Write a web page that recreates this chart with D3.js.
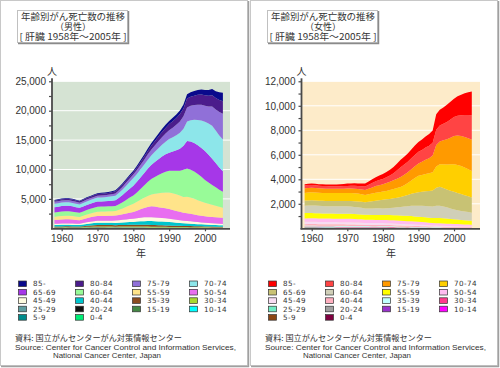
<!DOCTYPE html>
<html><head><meta charset="utf-8">
<script src="https://cdn.jsdelivr.net/npm/d3@7"></script>
<style>body{margin:0;background:#fff}svg{display:block}</style>
</head><body>
<svg id="c" width="500" height="368"></svg>
<script>
// ---------------- DATA ----------------
const years = d3.range(1958, 2006);
const ageGroups = ["85-","80-84","75-79","70-74","65-69","60-64","55-59","50-54","45-49","40-44","35-39","30-34","25-29","20-24","15-19","10-14","5-9","0-4"];
const xTicks = [1960, 1970, 1980, 1990, 2000];
const maleTicks = [5000, 10000, 15000, 20000, 25000];
const maleMinorTicks = [2500, 7500, 12500, 17500, 22500];
const femaleTicks = [2000, 4000, 6000, 8000, 10000, 12000];
const femaleMinorTicks = [1000, 3000, 5000, 7000, 9000, 11000];

// Male (1958..2005)
const male_85 = [120,125,130,130,135,130,125,120,130,135,140,145, 150,155,160,165,170,180,190,205,220,240, 260,290,320,350,400,450,480,500,520,540, 550,570,600,620,650,750,780,800,830,870, 900,950,1050,1150,1300,1450];
const male_80 = [200,205,210,215,220,220,225,230,240,250,260,280, 300,305,310,320,330,350,360,370,380,390, 400,440,480,530,590,650,720,800,880,960, 1050,1110,1180,1260,1350,1500,1550,1600,1680,1740, 1800,1850,1900,1950,2020,2100];
const male_75 = [330,335,340,340,340,335,330,320,320,320,310,305, 300,310,320,340,370,400,440,480,520,560, 600,660,720,800,900,1000,1080,1180,1280,1380, 1500,1620,1760,1920,2100,2400,2450,2500,2580,2650, 2700,2900,3300,3600,4000,4400];
const male_70 = [580,590,600,600,600,590,580,560,580,600,620,650, 680,690,700,720,750,780,850,950,1050,1180, 1300,1350,1400,1450,1520,1600,1720,1850,2000,2150, 2300,2420,2560,2720,2900,3300,3600,3950,4300,4700, 5000,5300,5600,5500,5450,5400];
const male_65 = [900,920,950,950,940,920,880,850,860,870,860,860, 870,870,880,890,920,950,1080,1220,1370,1510, 1650,1800,1950,2100,2250,2400,2540,2690,2840,2970, 3100,3270,3500,3750,4100,4700,4800,4850,4900,4900, 4900,4700,4450,4150,3800,3500];
const male_60 = [700,720,750,760,760,740,720,700,730,760,790,820, 850,850,850,850,850,850,950,1050,1180,1300, 1400,1600,1850,2100,2380,2650,2880,3120,3320,3520, 3700,3850,4000,4200,4600,4800,4750,4650,4450,4200, 3900,3650,3400,3150,2900,2700];
const male_55 = [560,580,600,610,610,590,560,540,580,620,660,700, 740,750,760,770,780,790,880,980,1120,1260, 1400,1500,1620,1740,1870,2000,2170,2360,2550,2700, 2800,2820,2820,2780,2700,2800,2750,2650,2550,2430, 2300,2180,2060,1940,1820,1700];
const male_50 = [650,660,680,690,690,670,640,610,650,700,740,770, 800,800,810,820,830,850,900,960,1030,1090, 1150,1280,1420,1570,1720,1850,1840,1800,1760,1700, 1650,1570,1490,1420,1350,1300,1280,1240,1180,1130, 1100,1080,1070,1060,1050,1050];
const male_45 = [220,225,230,235,235,230,225,220,250,280,300,320, 340,350,360,370,380,400,420,450,480,510, 550,590,630,650,660,650,640,620,600,580, 550,530,500,480,450,450,420,380,350,320, 300,290,280,270,260,250];
const male_40 = [250,255,260,265,265,260,255,250,280,310,340,360, 380,380,380,380,380,380,400,420,440,460, 480,520,570,610,640,650,650,640,630,620, 600,570,530,490,450,420,400,380,360,340, 320,300,280,260,245,230];
const male_35 = [120,125,130,135,135,130,125,120,150,180,210,230, 250,255,255,255,255,250,260,270,280,290, 300,310,310,310,305,300,290,270,260,245, 230,220,210,195,180,180,175,170,165,160, 150,145,140,135,130,130];
const male_30 = [60,62,64,65,65,64,62,60,75,90,105,115, 120,120,120,120,120,120,125,130,135,140, 140,140,140,138,135,130,125,118,110,105, 100,96,92,88,84,80,78,76,74,72, 70,68,66,64,62,60];
const male_25 = [40,40,42,42,42,41,40,40,48,56,62,66, 70,68,66,64,62,60,60,60,60,60, 60,58,56,54,52,50,49,48,47,46, 45,44,43,42,41,40,38,36,34,32, 30,29,28,27,26,25];
const male_20 = [20,20,21,22,22,21,20,20,24,28,32,36, 40,38,36,34,32,30,30,30,30,30, 30,29,28,27,26,25,25,25,25,25, 25,24,23,22,21,20,19,18,17,16, 15,14,14,13,13,12];
const male_15 = [15,15,16,16,16,15,15,15,17,18,19,20, 20,19,18,17,16,15,15,15,15,15, 15,15,15,15,15,15,14,13,13,12, 12,12,11,11,10,10,10,9,9,9, 8,8,8,8,8,8];
const male_10 = [15,15,16,16,16,15,15,15,17,18,19,20, 20,19,18,17,16,15,14,13,13,12, 12,12,11,11,10,10,10,9,9,8, 8,8,8,8,8,8,7,7,7,6, 6,6,6,5,5,5];
const male_5 = [15,16,16,17,16,15,15,15,16,18,19,20, 20,19,18,17,16,15,14,14,13,12, 12,12,11,11,10,10,10,9,9,8, 8,8,8,8,8,8,7,7,6,6, 6,6,5,5,5,5];
const male_0 = [20,20,22,22,22,21,20,20,22,25,28,30, 30,30,30,28,26,25,28,32,36,38, 40,40,40,40,40,40,40,40,40,40, 40,40,40,40,40,40,38,36,34,32, 30,29,28,27,26,25];

// Female (1958..2005)
const female_85 = [110,115,120,120,125,125,130,135,140,150,160,175, 190,195,200,205,215,230,260,300,340,370, 400,430,460,500,550,600,640,680,720,760, 800,850,900,950,1000,1250,1280,1330,1400,1450, 1500,1580,1680,1760,1850,1950];
const female_80 = [220,225,225,220,215,215,210,210,205,205,210,215, 220,225,235,245,265,300,330,360,390,410, 430,470,520,580,680,800,830,860,890,920, 950,970,1000,1020,1050,1250,1300,1350,1420,1490, 1550,1620,1700,1800,1900,2000];
const female_75 = [380,385,380,375,370,365,360,355,350,345,345,348, 350,355,365,375,385,400,450,500,540,570, 600,640,680,720,770,820,850,880,920,960, 1000,1070,1150,1230,1350,1750,1850,1950,2050,2180, 2300,2400,2450,2500,2530,2550];
const female_70 = [630,640,650,645,640,640,645,650,650,650,655,658, 660,665,665,650,625,600,610,625,645,660, 670,690,720,760,790,820,890,970,1080,1220, 1350,1380,1420,1450,1500,1750,1850,1950,2050,2150, 2250,2280,2280,2250,2200,2150];
const female_65 = [410,415,420,420,420,425,425,425,428,430,435,438, 440,450,460,470,480,500,540,590,630,665, 700,720,740,760,785,810,860,920,990,1050, 1100,1140,1190,1240,1300,1450,1550,1500,1450,1450, 1450,1420,1380,1340,1300,1250];
const female_60 = [610,615,620,615,610,605,600,600,598,598,600,600, 600,590,580,570,550,520,525,530,535,538, 540,560,580,610,650,690,740,790,840,870, 900,910,920,935,950,1000,1000,970,920,860, 800,760,730,700,680,650];
const female_55 = [430,432,430,425,420,415,412,410,410,410,410,410, 410,410,408,405,403,400,403,405,408,410, 410,412,415,418,422,430,430,430,428,425, 420,420,418,410,400,430,430,420,410,395, 380,370,360,350,340,330];
const female_50 = [280,282,283,283,282,281,280,280,280,280,280,280, 280,278,275,272,268,260,258,256,254,252, 250,252,255,257,259,260,255,250,243,237, 230,225,220,210,200,200,198,195,190,185, 180,175,170,165,158,150];
const female_45 = [190,190,190,188,186,185,184,184,183,182,181,180, 180,178,176,174,170,160,158,156,154,152, 150,150,148,146,143,140,136,132,128,124, 120,115,110,102,95,90,85,80,76,73, 70,68,66,64,62,60];
const female_40 = [120,121,122,122,121,120,120,119,119,120,120,120, 120,118,115,112,108,100,100,100,100,100, 100,98,96,94,90,85,82,79,76,73, 70,66,62,58,55,50,48,46,44,42, 40,38,36,34,32,30];
const female_35 = [70,70,71,71,71,70,70,70,70,70,70,70, 70,68,66,64,62,60,60,60,60,60, 60,59,58,56,53,50,48,46,44,42, 40,38,36,33,30,30,28,26,24,22, 20,19,18,17,16,15];
const female_30 = [40,40,41,41,41,40,40,40,40,40,40,40, 40,39,38,37,36,35,35,35,35,35, 35,34,33,31,28,25,24,23,22,21, 20,19,18,17,16,15,14,14,13,12, 12,11,11,10,10,10];
const female_25 = [30,30,30,29,29,28,28,27,27,26,26,25, 25,25,24,24,23,22,22,21,21,20, 20,19,19,18,17,15,14,13,13,12, 12,11,11,10,9,8,8,7,7,6, 6,6,5,5,5,5];
const female_20 = [20,20,20,19,19,18,18,17,17,16,16,15, 15,15,15,15,15,15,15,15,15,15, 15,14,13,12,11,10,10,9,9,8, 8,7,7,6,6,6,5,5,5,5, 5,5,4,4,4,4];
const female_15 = [15,15,15,14,14,14,13,13,12,12,11,11, 10,10,10,10,10,10,10,10,10,10, 10,9,9,8,7,6,6,6,5,5, 5,5,5,4,4,4,4,4,4,3, 3,3,3,3,3,3];
const female_10 = [10,10,10,10,10,10,10,10,10,10,10,10, 10,10,10,9,9,8,8,8,8,8, 8,8,7,7,6,5,5,5,5,4, 4,4,4,3,3,3,3,3,3,3, 3,3,2,2,2,2];
const female_5 = [10,10,11,11,10,10,10,10,10,10,10,10, 10,10,9,9,9,8,8,8,8,8, 8,8,7,7,6,5,5,5,5,4, 4,4,4,3,3,3,3,3,3,3, 3,3,3,3,3,3];
const female_0 = [25,25,24,24,23,22,22,21,21,20,20,20, 20,20,20,20,20,20,20,20,20,20, 20,20,19,19,18,18,17,17,16,16, 15,15,14,14,14,12,12,12,11,11, 10,10,9,9,8,8];

const maleColors = ["#0a0a8c","#4b1c8c","#9070d8","#8de6ea","#a637e8","#98fb98","#ffe48a","#e86ef0","#fffbe0","#00c5cd","#8b4c20","#a8d830","#5f9ea0","#111111","#448844","#00ffff","#008b8b","#00ee76"];
const femaleColors = ["#ff0000","#ff4444","#ff9a00","#ffcf00","#c8c274","#d0cfb8","#ffff00","#ffbcef","#f7dcf2","#ffb0c0","#c0ffff","#ff3a8c","#70ecc4","#a0a0a0","#9932cc","#ff00ff","#8b4513","#7f0040"];

const maleSeries = [male_85,male_80,male_75,male_70,male_65,male_60,male_55,male_50,male_45,male_40,male_35,male_30,male_25,male_20,male_15,male_10,male_5,male_0];
const femaleSeries = [female_85,female_80,female_75,female_70,female_65,female_60,female_55,female_50,female_45,female_40,female_35,female_30,female_25,female_20,female_15,female_10,female_5,female_0];

// ---------------- DRAW ----------------
const svg = d3.select("#c");
const JP = "'Noto Sans CJK JP', sans-serif";
const LAT = "'Liberation Sans', Arial, sans-serif";

function panel(cfg) {
  const ox = cfg.ox;
  const g = svg.append("g");
  // frame
  g.append("rect").attr("x", ox + 0.5).attr("y", 0.5).attr("width", 247).attr("height", 365)
    .attr("fill", "#fff").attr("stroke", "#c8c8c8");
  g.append("line").attr("x1", ox + 248.5).attr("x2", ox + 248.5).attr("y1", 1).attr("y2", 367)
    .attr("stroke", "#a0a0a0").attr("stroke-width", 1.5);
  g.append("line").attr("x1", ox + 1).attr("x2", ox + 249).attr("y1", 366.5).attr("y2", 366.5)
    .attr("stroke", "#a0a0a0").attr("stroke-width", 1.5);

  // title box
  g.append("rect").attr("x", ox + 17.5).attr("y", 10.5).attr("width", 110).attr("height", 32)
    .attr("fill", "#fff").attr("stroke", "#c0c0c0");
  g.append("path").attr("d", `M${ox+128.5},11 V43.5 H${ox+18}`).attr("fill", "none")
    .attr("stroke", "#8a8a8a").attr("stroke-width", 1.5);
  const title = g.append("text").attr("text-anchor", "middle")
    .attr("font-family", JP).attr("font-size", 9).attr("fill", "#333");
  [[cfg.t1, 104], [cfg.t2, null], [cfg.t3, 107]].forEach(([t, w], i) => {
    const ts = title.append("tspan").attr("x", ox + 73).attr("y", 19.5 + i * 10).text(t);
    if (w) ts.attr("textLength", w).attr("lengthAdjust", "spacingAndGlyphs");
  });

  // scales
  const axisX = ox + cfg.axisX;
  const plotRight = ox + cfg.plotRight;
  const top = 81.3, bottom = 228.3;
  const x = d3.scaleLinear().domain([1958, 2005]).range([ox + cfg.x0, ox + cfg.x1]);
  const y = d3.scaleLinear().domain([0, cfg.ymax]).range([bottom, top]);

  // background
  g.append("rect").attr("x", axisX).attr("y", top).attr("width", plotRight - axisX).attr("height", bottom - top)
    .attr("fill", cfg.bg);
  // grid lines
  g.selectAll(null).data(cfg.ticks).join("line")
    .attr("x1", axisX).attr("x2", plotRight).attr("y1", d => y(d)).attr("y2", d => y(d))
    .attr("stroke", "#fff").attr("stroke-width", 1);

  // stacked areas (bottom = youngest)
  const keys = ageGroups.slice().reverse();
  const rows = years.map((yr, i) => {
    const r = { year: yr };
    ageGroups.forEach((a, k) => { r[a] = cfg.series[k][i]; });
    return r;
  });
  const stack = d3.stack().keys(keys)(rows);
  const area = d3.area().x(d => x(d.data.year)).y0(d => y(d[0])).y1(d => y(d[1]));
  g.selectAll(null).data(stack).join("path")
    .attr("d", area)
    .attr("fill", d => cfg.colors[ageGroups.indexOf(d.key)]);

  // axes
  const axCol = "#4a4a4a";
  const ya = g.append("g").attr("transform", `translate(${axisX},0)`)
    .call(d3.axisLeft(y).tickValues(cfg.ticks).tickFormat(d3.format(",")).tickSize(3).tickSizeOuter(0).tickPadding(3));
  ya.select(".domain").remove();
  ya.selectAll("line").attr("stroke", axCol).attr("stroke-width", 1.2);
  ya.selectAll("text").attr("font-family", LAT).attr("font-size", 10).attr("fill", "#333");
  const yam = g.append("g").attr("transform", `translate(${axisX},0)`)
    .call(d3.axisLeft(y).tickValues(cfg.minor).tickFormat("").tickSize(3).tickSizeOuter(0));
  yam.select(".domain").remove();
  yam.selectAll("line").attr("stroke", axCol).attr("stroke-width", 1.2);

  const xa = g.append("g").attr("transform", `translate(0,${bottom})`)
    .call(d3.axisBottom(x).tickValues(xTicks).tickFormat(d3.format("d")).tickSize(3).tickSizeOuter(0).tickPadding(4));
  xa.select(".domain").remove();
  xa.selectAll("line").attr("stroke", axCol).attr("stroke-width", 1.2);
  xa.selectAll("text").attr("font-family", LAT).attr("font-size", 10).attr("fill", "#333");

  g.append("line").attr("x1", axisX).attr("x2", axisX).attr("y1", top - 3).attr("y2", bottom + 1)
    .attr("stroke", axCol).attr("stroke-width", 1.8);
  g.append("line").attr("x1", axisX - 1).attr("x2", plotRight).attr("y1", bottom + 0.5).attr("y2", bottom + 0.5)
    .attr("stroke", axCol).attr("stroke-width", 1.8);

  // unit labels
  g.append("text").attr("x", axisX).attr("y", 75).attr("text-anchor", "middle")
    .attr("font-family", JP).attr("font-size", 10).attr("fill", "#333").text("人");
  g.append("text").attr("x", ox + 141).attr("y", 257).attr("text-anchor", "middle")
    .attr("font-family", JP).attr("font-size", 10).attr("fill", "#333").text("年");

  // legend
  const colX = [18, 75, 132, 189];
  ageGroups.forEach((a, k) => {
    const cx = ox + colX[k % 4];
    const cy = 283.7 + Math.floor(k / 4) * 8.4;
    g.append("rect").attr("x", cx + 0.5).attr("y", cy - 2.7).attr("width", 8).attr("height", 5.6)
      .attr("fill", cfg.colors[k]).attr("stroke", "#333").attr("stroke-width", 0.7);
    g.append("text").attr("x", cx + 15).attr("y", cy + 2.7)
      .attr("font-family", "'DejaVu Sans', sans-serif").attr("font-size", 7.2).attr("letter-spacing", 0.4)
      .attr("fill", "#333").text(a);
  });

  // source
  g.append("text").attr("x", ox + 15).attr("y", 341).attr("font-family", JP).attr("font-size", 8)
    .attr("fill", "#333").attr("textLength", 167).attr("lengthAdjust", "spacingAndGlyphs")
    .text("資料: 国立がんセンターがん対策情報センター");
  g.append("text").attr("x", ox + 15).attr("y", 349.5).attr("font-family", LAT).attr("font-size", 7.5)
    .attr("fill", "#333").attr("textLength", 221).attr("lengthAdjust", "spacingAndGlyphs")
    .text("Source:  Center for Cancer Control and Information Services,");
  g.append("text").attr("x", ox + 53).attr("y", 358).attr("font-family", LAT).attr("font-size", 7.5)
    .attr("fill", "#333").attr("textLength", 108).attr("lengthAdjust", "spacingAndGlyphs")
    .text("National Cancer Center, Japan");
}

panel({ ox: 0, t1: "年齢別がん死亡数の推移", t2: "（男性）", t3: "[ 肝臓 1958年～2005年 ]",
  axisX: 52, plotRight: 230, x0: 54.5, x1: 222.9, ymax: 25000,
  ticks: maleTicks, minor: maleMinorTicks, bg: "#d5e3d3", series: maleSeries, colors: maleColors });
panel({ ox: 250, t1: "年齢別がん死亡数の推移", t2: "（女性）", t3: "[ 肝臓 1958年～2005年 ]",
  axisX: 51.5, plotRight: 230, x0: 54.6, x1: 221.8, ymax: 12000,
  ticks: femaleTicks, minor: femaleMinorTicks, bg: "#fdebc9", series: femaleSeries, colors: femaleColors });
</script>
</body></html>
